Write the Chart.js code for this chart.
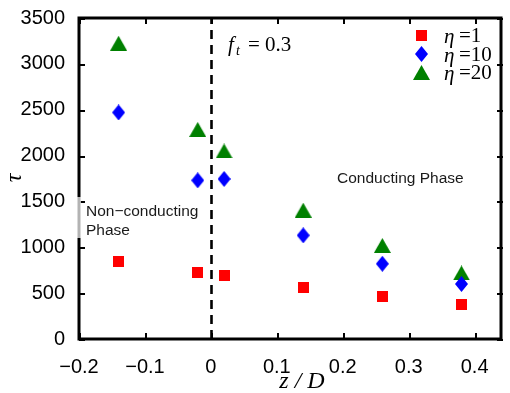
<!DOCTYPE html>
<html>
<head>
<meta charset="utf-8">
<script src="https://cdn.jsdelivr.net/npm/chart.js@4.4.1/dist/chart.umd.min.js"></script>
<style>
  html, body { margin: 0; padding: 0; background: #fff; }
  #wrap { width: 510px; height: 393px; position: relative; }
</style>
</head>
<body>
<div id="wrap"><canvas id="chart"></canvas></div>
<script>
// data
const zD = [-0.14, -0.02, 0.02, 0.14, 0.26, 0.38];
const tauEta1 = [840, 720, 690, 560, 460, 375];
const tauEta10 = [2470, 1730, 1745, 1130, 820, 600];
const tauEta20 = [3225, 2285, 2050, 1405, 1020, 720];
const seriesNames = ["1", "10", "20"];
const xTicks = [-0.2, -0.1, 0, 0.1, 0.2, 0.3, 0.4];
const yTicks = [0, 500, 1000, 1500, 2000, 2500, 3000, 3500];
const transition = 0;

// marker images (matlab style)
function makeMarker(w, h, color, draw) {
  const c = document.createElement('canvas');
  c.width = w; c.height = h;
  const g = c.getContext('2d');
  g.fillStyle = color;
  g.beginPath();
  draw(g, w, h);
  g.fill();
  return c;
}
const square = makeMarker(11, 11, '#ff0000', (g, w, h) => g.rect(0, 0, w, h));
const diamond = makeMarker(13, 16, '#0000ff', (g, w, h) => {
  g.moveTo(w / 2, 0); g.lineTo(w, h / 2); g.lineTo(w / 2, h); g.lineTo(0, h / 2); g.closePath();
});
const triangle = makeMarker(17, 15, '#008000', (g, w, h) => {
  g.moveTo(w / 2, 0); g.lineTo(w, h); g.lineTo(0, h); g.closePath();
});
const markers = [square, diamond, triangle];

const toPts = ys => ys.map((y, i) => ({ x: zD[i], y: y }));

const fmtX = v => {
  if (Math.abs(v) < 1e-9) return '0';
  return (v < 0 ? '\u2212' : '') + Math.abs(v).toFixed(1);
};

// box, inward ticks, dashed line, texts and legend
const decor = {
  id: 'decor',
  afterDraw(chart) {
    const ctx = chart.ctx;
    const a = chart.chartArea;
    const xs = chart.scales.x, ys = chart.scales.y;
    const L = Math.round(a.left), R = Math.round(a.right);
    const T = Math.round(a.top), B = Math.round(a.bottom);
    ctx.save();

    // box
    ctx.strokeStyle = '#000';
    ctx.lineWidth = 3;
    ctx.strokeRect(L, T, R - L - 2, B - T);

    // ticks pointing inward
    ctx.fillStyle = '#000';
    xTicks.forEach(v => {
      const px = Math.round(xs.getPixelForValue(v));
      ctx.fillRect(px, B - 6, 2, 6);
      ctx.fillRect(px, T, 2, 6);
    });
    yTicks.forEach(v => {
      const py = Math.round(ys.getPixelForValue(v));
      ctx.fillRect(L, py, 6, 2);
      ctx.fillRect(R - 6, py, 6, 2);
    });

    // dashed line at the transition
    const x0 = Math.round(xs.getPixelForValue(transition)) + 0.5;
    ctx.lineWidth = 2.6;
    ctx.setLineDash([9, 6]);
    ctx.beginPath();
    ctx.moveTo(x0, B);
    ctx.lineTo(x0, T);
    ctx.stroke();
    ctx.setLineDash([]);

    // text box of the left label covers the axis
    ctx.fillStyle = 'rgba(255,255,255,0.7)';
    ctx.fillRect(L - 2, 197, 4, 41);

    // region labels
    ctx.fillStyle = '#1a1a1a';
    ctx.font = '15.5px "Liberation Sans", Arial, sans-serif';
    ctx.textBaseline = 'middle';
    ctx.textAlign = 'left';
    ctx.fillText('Conducting Phase', 337, 179);
    ctx.fillText('Non\u2212conducting', 86, 212);
    ctx.fillText('Phase', 86, 231);

    // f_t = 0.3
    ctx.fillStyle = '#000';
    ctx.textBaseline = 'alphabetic';
    ctx.font = 'italic 21px "Liberation Serif", "Times New Roman", serif';
    ctx.fillText('f', 228, 51);
    ctx.font = 'italic 14px "Liberation Serif", "Times New Roman", serif';
    ctx.fillText('t', 236, 55);
    ctx.font = '21px "Liberation Serif", "Times New Roman", serif';
    ctx.fillText('= 0.3', 248, 51);

    // legend
    const lx = 421, ly = [35, 54, 72];
    seriesNames.forEach((n, i) => {
      const m = markers[i];
      ctx.drawImage(m, Math.round(lx - m.width / 2), Math.round(ly[i] - m.height / 2));
      ctx.textBaseline = 'middle';
      ctx.font = 'italic 21px "Liberation Serif", "Times New Roman", serif';
      ctx.fillText('\u03b7', 444, ly[i] + 2);
      ctx.font = '21px "Liberation Serif", "Times New Roman", serif';
      ctx.fillText('=' + n, 459, ly[i] + 1);
    });

    // axis labels
    ctx.font = 'italic 24px "Liberation Serif", "Times New Roman", serif';
    ctx.textAlign = 'center';
    ctx.fillText('z / D', 302, 382);
    ctx.translate(15, 178);
    ctx.rotate(-Math.PI / 2);
    ctx.fillText('\u03c4', 0, 0);
    ctx.restore();
  }
};

new Chart(document.getElementById('chart'), {
  type: 'scatter',
  data: {
    datasets: [
      { label: '\u03b7 =1', data: toPts(tauEta1), pointStyle: square, pointRadius: 6 },
      { label: '\u03b7 =10', data: toPts(tauEta10), pointStyle: diamond, pointRadius: 6 },
      { label: '\u03b7 =20', data: toPts(tauEta20), pointStyle: triangle, pointRadius: 6 }
    ]
  },
  options: {
    responsive: true,
    maintainAspectRatio: false,
    animation: false,
    layout: { padding: { top: 16, right: 0, left: 0, bottom: 0 } },
    plugins: {
      legend: { display: false },
      tooltip: { enabled: false }
    },
    scales: {
      x: {
        type: 'linear',
        min: -0.2,
        max: 0.443,
        grid: { display: false },
        border: { display: false },
        afterBuildTicks: s => { s.ticks = xTicks.map(v => ({ value: v })); },
        afterFit: s => { s.height = 54; },
        ticks: {
          color: '#000',
          padding: 8,
          maxRotation: 0,
          autoSkip: false,
          font: { family: '"Liberation Sans", Arial, sans-serif', size: 20 },
          callback: v => fmtX(v)
        }
      },
      y: {
        type: 'linear',
        min: 0,
        max: 3500,
        grid: { display: false },
        border: { display: false },
        afterBuildTicks: s => { s.ticks = yTicks.map(v => ({ value: v })); },
        afterFit: s => { s.width = 79; },
        ticks: {
          color: '#000',
          padding: 6,
          autoSkip: false,
          font: { family: '"Liberation Sans", Arial, sans-serif', size: 20 },
          callback: v => String(v)
        }
      }
    }
  },
  plugins: [decor]
});
</script>
</body>
</html>
